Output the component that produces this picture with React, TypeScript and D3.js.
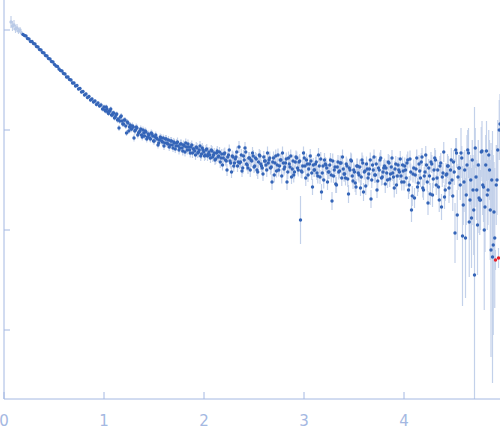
import React from 'react'
import * as d3 from 'd3'

// scattering vector grid (uniform): q = start + i * step
const qStep = 0.015
const qStartA = 0.07
const qStartB = 1.0075 // second, interleaved half of the points

// log10 of intensity (first half)
const logIntensityA = [
  0.08, 0.04, 0.05, 0.01, 0.02, -0.01, 0.0, -0.03, -0.045, -0.055,
  -0.06, -0.085, -0.09, -0.115, -0.115, -0.135, -0.14, -0.165, -0.17, -0.195,
  -0.2, -0.225, -0.23, -0.255, -0.26, -0.285, -0.29, -0.315, -0.32, -0.345,
  -0.36, -0.365, -0.39, -0.405, -0.41, -0.435, -0.44, -0.47, -0.47, -0.495,
  -0.5, -0.53, -0.53, -0.56, -0.555, -0.59, -0.585, -0.62, -0.615, -0.65,
  -0.64, -0.675, -0.665, -0.7, -0.69, -0.72, -0.71, -0.745, -0.73, -0.76,
  -0.75, -0.79, -0.77, -0.81, -0.79, -0.835, -0.81, -0.85, -0.83, -0.88,
  -0.85, -0.9, -0.98, -0.87, -0.91, -0.94, -0.9, -1.03, -0.93, -0.97,
  -0.99, -0.96, -1.08, -1.0, -0.98, -1.03, -1.01, -1.05, -1.0, -1.06,
  -1.02, -1.07, -1.05, -1.09, -1.04, -1.11, -1.07, -1.08, -1.15, -1.1,
  -1.08, -1.12, -1.16, -1.09, -1.13, -1.1, -1.15, -1.11, -1.18, -1.13,
  -1.16, -1.12, -1.2, -1.14, -1.18, -1.15, -1.22, -1.17, -1.14, -1.2,
  -1.17, -1.23, -1.19, -1.25, -1.18, -1.22, -1.16, -1.24, -1.2, -1.26,
  -1.2, -1.26, -1.22, -1.28, -1.21, -1.25, -1.3, -1.23, -1.27, -1.22,
  -1.28, -1.35, -1.24, -1.3, -1.4, -1.25, -1.31, -1.42, -1.27, -1.33,
  -1.27, -1.36, -1.17, -1.32, -1.41, -1.26, -1.18, -1.34, -1.38, -1.28,
  -1.3, -1.23, -1.37, -1.28, -1.4, -1.32, -1.26, -1.36, -1.44, -1.31,
  -1.35, -1.23, -1.3, -1.38, -1.52, -1.28, -1.33, -1.41, -1.25, -1.36,
  -1.3, -1.23, -1.39, -1.33, -1.52, -1.28, -1.37, -1.47, -1.31, -1.42,
  -1.27, -1.38, -1.32, -1.9, -1.42, -1.23, -1.36, -1.3, -1.45, -1.34,
  -1.31, -1.57, -1.4, -1.34, -1.43, -1.25, -1.47, -1.62, -1.36, -1.3,
  -1.35, -1.52, -1.42, -1.3, -1.71, -1.46, -1.37, -1.55, -1.32, -1.41,
  -1.33, -1.27, -1.44, -1.48, -1.36, -1.64, -1.4, -1.31, -1.51, -1.42,
  -1.57, -1.36, -1.45, -1.58, -1.3, -1.62, -1.41, -1.34, -1.48, -1.39,
  -1.69, -1.35, -1.27, -1.45, -1.6, -1.38, -1.3, -1.48, -1.42, -1.36,
  -1.38, -1.5, -1.33, -1.44, -1.28, -1.47, -1.39, -1.55, -1.35, -1.42,
  -1.46, -1.35, -1.52, -1.4, -1.33, -1.6, -1.29, -1.8, -1.44, -1.68,
  -1.39, -1.57, -1.34, -1.48, -1.27, -1.6, -1.42, -1.35, -1.73, -1.46,
  -1.32, -1.65, -1.4, -1.3, -1.48, -1.57, -1.36, -1.77, -1.43, -1.67,
  -1.45, -1.36, -1.58, -1.4, -1.5, -1.32, -2.03, -1.23, -1.47, -1.38,
  -1.23, -2.06, -1.52, -2.08, -1.35, -1.23, -1.7, -1.88, -1.6, -2.45,
  -1.47, -1.95, -1.68, -1.7, -1.21, -1.57, -1.77, -1.21, -1.6, -1.4,
  -2.2, -2.27, -1.82, -2.3, -1.5, -2.28, -0.94,
]

// error of log10 intensity (first half)
const logErrorA = [
  0.06, 0.05, 0.05, 0.04, 0.04, 0.03, 0.03, 0.02, 0.012, 0.01,
  0.01, 0.01, 0.01, 0.01, 0.01, 0.01, 0.01, 0.01, 0.01, 0.01,
  0.012, 0.012, 0.012, 0.012, 0.012, 0.012, 0.012, 0.012, 0.012, 0.012,
  0.015, 0.015, 0.015, 0.015, 0.015, 0.015, 0.015, 0.015, 0.015, 0.015,
  0.018, 0.018, 0.018, 0.018, 0.018, 0.018, 0.018, 0.018, 0.018, 0.018,
  0.02, 0.02, 0.02, 0.02, 0.02, 0.02, 0.02, 0.02, 0.02, 0.02,
  0.025, 0.025, 0.025, 0.025, 0.025, 0.025, 0.025, 0.025, 0.025, 0.025,
  0.03, 0.03, 0.03, 0.03, 0.03, 0.03, 0.03, 0.03, 0.03, 0.03,
  0.035, 0.035, 0.035, 0.035, 0.035, 0.035, 0.035, 0.035, 0.035, 0.035,
  0.035, 0.035, 0.035, 0.035, 0.035, 0.035, 0.035, 0.035, 0.035, 0.035,
  0.04, 0.04, 0.04, 0.04, 0.04, 0.04, 0.04, 0.04, 0.04, 0.04,
  0.045, 0.045, 0.045, 0.045, 0.045, 0.045, 0.045, 0.045, 0.045, 0.045,
  0.05, 0.05, 0.05, 0.05, 0.05, 0.05, 0.05, 0.05, 0.05, 0.05,
  0.05, 0.05, 0.05, 0.05, 0.05, 0.05, 0.05, 0.05, 0.05, 0.05,
  0.055, 0.055, 0.055, 0.055, 0.06, 0.055, 0.055, 0.06, 0.055, 0.055,
  0.06, 0.06, 0.06, 0.06, 0.06, 0.06, 0.06, 0.06, 0.06, 0.06,
  0.06, 0.06, 0.06, 0.06, 0.06, 0.06, 0.06, 0.06, 0.07, 0.06,
  0.065, 0.065, 0.065, 0.065, 0.08, 0.065, 0.065, 0.065, 0.065, 0.065,
  0.065, 0.065, 0.065, 0.065, 0.08, 0.065, 0.065, 0.07, 0.065, 0.065,
  0.065, 0.065, 0.065, 0.24, 0.065, 0.065, 0.065, 0.065, 0.07, 0.065,
  0.07, 0.08, 0.07, 0.07, 0.07, 0.07, 0.07, 0.08, 0.07, 0.07,
  0.07, 0.08, 0.07, 0.07, 0.09, 0.07, 0.07, 0.08, 0.07, 0.07,
  0.075, 0.075, 0.075, 0.075, 0.075, 0.09, 0.075, 0.075, 0.08, 0.075,
  0.08, 0.075, 0.075, 0.08, 0.075, 0.09, 0.075, 0.075, 0.075, 0.075,
  0.09, 0.075, 0.075, 0.075, 0.08, 0.075, 0.075, 0.075, 0.075, 0.075,
  0.08, 0.08, 0.08, 0.08, 0.08, 0.08, 0.08, 0.09, 0.08, 0.08,
  0.085, 0.085, 0.085, 0.085, 0.085, 0.09, 0.085, 0.12, 0.085, 0.1,
  0.09, 0.09, 0.09, 0.09, 0.09, 0.1, 0.09, 0.09, 0.12, 0.09,
  0.1, 0.12, 0.1, 0.1, 0.1, 0.11, 0.1, 0.13, 0.1, 0.12,
  0.12, 0.12, 0.15, 0.12, 0.14, 0.12, 0.3, 0.15, 0.13, 0.13,
  0.25, 0.7, 0.3, 0.6, 0.3, 0.25, 0.4, 0.5, 0.35, 1.68,
  0.3, 0.5, 0.35, 0.3, 0.3, 0.35, 0.45, 0.3, 0.35, 0.3,
  1.07, 1.26, 0.5, 0.1, 0.35, 0.1, 0.3,
]

// log10 of intensity, second (interleaved) half
const logIntensityB = [
  -0.8, -0.77, -0.82, -0.81, -0.79, -0.85, -0.83, -0.87, -0.84, -0.89,
  -0.91, -0.86, -0.94, -0.9, -0.96, -0.92, -1.01, -0.95, -0.99, -0.97,
  -1.01, -0.97, -1.05, -1.02, -0.99, -1.07, -1.03, -1.01, -1.09, -1.04,
  -1.08, -1.03, -1.06, -1.11, -1.05, -1.09, -1.13, -1.07, -1.11, -1.08,
  -1.13, -1.09, -1.14, -1.17, -1.11, -1.15, -1.12, -1.19, -1.13, -1.16,
  -1.18, -1.14, -1.21, -1.16, -1.13, -1.2, -1.17, -1.23, -1.15, -1.19,
  -1.21, -1.17, -1.23, -1.2, -1.26, -1.18, -1.22, -1.25, -1.19, -1.24,
  -1.25, -1.2, -1.27, -1.23, -1.29, -1.21, -1.26, -1.32, -1.24, -1.28,
  -1.23, -1.31, -1.27, -1.2, -1.33, -1.26, -1.36, -1.29, -1.22, -1.32,
  -1.33, -1.25, -1.38, -1.3, -1.22, -1.35, -1.28, -1.4, -1.31, -1.26,
  -1.36, -1.29, -1.42, -1.25, -1.34, -1.38, -1.27, -1.31, -1.4, -1.33,
  -1.28, -1.37, -1.32, -1.45, -1.26, -1.35, -1.4, -1.3, -1.46, -1.33,
  -1.37, -1.29, -1.42, -1.34, -1.26, -1.39, -1.45, -1.32, -1.28, -1.4,
  -1.31, -1.41, -1.36, -1.28, -1.48, -1.34, -1.39, -1.26, -1.43, -1.35,
  -1.4, -1.32, -1.46, -1.36, -1.29, -1.43, -1.5, -1.34, -1.38, -1.42,
  -1.35, -1.45, -1.31, -1.4, -1.54, -1.37, -1.42, -1.33, -1.48, -1.39,
  -1.44, -1.34, -1.49, -1.38, -1.3, -1.46, -1.4, -1.53, -1.36, -1.43,
  -1.37, -1.47, -1.33, -1.42, -1.56, -1.39, -1.44, -1.3, -1.5, -1.4,
  -1.45, -1.34, -1.51, -1.4, -1.28, -1.47, -1.38, -1.54, -1.43, -1.32,
  -1.49, -1.37, -1.43, -1.58, -1.34, -1.46, -1.4, -1.29, -1.52, -1.41,
  -1.36, -1.48, -1.3, -1.55, -1.42, -1.66, -1.38, -1.45, -1.28, -1.53,
  -1.41, -1.32, -1.58, -1.46, -1.25, -1.52, -1.38, -1.64, -1.34, -1.49,
  -1.28, -1.55, -1.4, -1.7, -1.33, -1.47, -1.22, -1.6, -1.44, -1.36,
  -1.53, -1.3, -1.66, -1.42, -1.2, -1.85, -1.38, -1.55, -1.28, -1.75,
  -1.4, -1.65, -1.2, -1.92, -1.5, -1.3, -1.8, -1.18, -1.6, -1.35,
  -1.7, -1.22, -1.55, -2.0, -1.35, -1.65, -1.25, -1.8, -1.5, -2.15,
  -2.08, -1.55, -1.2, -1.0,
]

// error of log10 intensity, second half
const logErrorB = [
  0.025, 0.025, 0.025, 0.025, 0.025, 0.025, 0.025, 0.025, 0.025, 0.025,
  0.03, 0.03, 0.03, 0.03, 0.03, 0.03, 0.03, 0.03, 0.03, 0.03,
  0.035, 0.035, 0.035, 0.035, 0.035, 0.035, 0.035, 0.035, 0.035, 0.035,
  0.035, 0.035, 0.035, 0.035, 0.035, 0.035, 0.035, 0.035, 0.035, 0.035,
  0.04, 0.04, 0.04, 0.04, 0.04, 0.04, 0.04, 0.04, 0.04, 0.04,
  0.045, 0.045, 0.045, 0.045, 0.045, 0.045, 0.045, 0.045, 0.045, 0.045,
  0.05, 0.05, 0.05, 0.05, 0.05, 0.05, 0.05, 0.05, 0.05, 0.05,
  0.05, 0.05, 0.05, 0.05, 0.05, 0.05, 0.05, 0.06, 0.05, 0.05,
  0.055, 0.055, 0.055, 0.055, 0.055, 0.055, 0.06, 0.055, 0.055, 0.055,
  0.06, 0.06, 0.06, 0.06, 0.06, 0.06, 0.06, 0.07, 0.06, 0.06,
  0.06, 0.06, 0.07, 0.06, 0.06, 0.06, 0.06, 0.06, 0.07, 0.06,
  0.065, 0.065, 0.065, 0.075, 0.065, 0.065, 0.065, 0.065, 0.075, 0.065,
  0.065, 0.065, 0.07, 0.065, 0.065, 0.065, 0.075, 0.065, 0.065, 0.065,
  0.07, 0.07, 0.07, 0.07, 0.08, 0.07, 0.07, 0.07, 0.07, 0.07,
  0.07, 0.07, 0.075, 0.07, 0.07, 0.07, 0.085, 0.07, 0.07, 0.07,
  0.075, 0.075, 0.075, 0.075, 0.09, 0.075, 0.075, 0.075, 0.08, 0.075,
  0.075, 0.075, 0.08, 0.075, 0.075, 0.075, 0.075, 0.09, 0.075, 0.075,
  0.075, 0.08, 0.075, 0.075, 0.09, 0.075, 0.075, 0.075, 0.08, 0.075,
  0.08, 0.08, 0.085, 0.08, 0.08, 0.08, 0.08, 0.09, 0.08, 0.08,
  0.08, 0.08, 0.08, 0.095, 0.08, 0.08, 0.08, 0.08, 0.085, 0.08,
  0.085, 0.085, 0.085, 0.09, 0.085, 0.1, 0.085, 0.085, 0.085, 0.09,
  0.09, 0.09, 0.095, 0.09, 0.09, 0.095, 0.09, 0.11, 0.09, 0.09,
  0.1, 0.1, 0.1, 0.12, 0.1, 0.1, 0.1, 0.11, 0.1, 0.1,
  0.13, 0.12, 0.15, 0.13, 0.12, 0.25, 0.13, 0.15, 0.12, 0.2,
  0.2, 0.3, 0.2, 0.55, 0.25, 0.2, 0.45, 0.2, 0.3, 0.25,
  0.35, 0.25, 0.3, 0.8, 0.3, 0.35, 0.25, 0.5, 0.3, 0.9,
  0.7, 0.4, 0.3, 0.3,
]

// leading points left out of the fit, and flagged outliers (first half indices)
const excludedCount = 8
const outlierIndexA = [323, 325]

const xTicks = [0, 1, 2, 3, 4]
const yTicks = [1, 0.1, 0.01, 0.001]

const W = 500
const H = 437
const left = 4
const bottom = 399

const axisColor = '#a4b8e2'
const pointColor = '#3565b8'
const lightPointColor = '#b9cae7'
const errorColor = '#c3d1ea'
const outlierColor = '#e8202a'

interface Pt {
  q: number
  l: number
  e: number
  kind: 'excl' | 'out' | 'ok'
}

const App: React.FC = () => {
  const x = d3.scaleLinear().domain([0, 4.96]).range([left, W])
  const y = d3.scaleLog().domain([10 ** 0.3, 10 ** -3.69]).range([0, bottom])

  const a: Pt[] = logIntensityA.map((l, i) => ({
    q: qStartA + i * qStep,
    l,
    e: logErrorA[i],
    kind: i < excludedCount ? 'excl' : outlierIndexA.includes(i) ? 'out' : 'ok',
  }))
  const b: Pt[] = logIntensityB.map((l, i) => ({
    q: qStartB + i * qStep,
    l,
    e: logErrorB[i],
    kind: 'ok',
  }))
  const points = [...a, ...b].sort((p1, p2) => p1.q - p2.q)
  // outliers drawn on top
  const drawOrder = [...points.filter(p => p.kind !== 'out'), ...points.filter(p => p.kind === 'out')]

  const clampY = (v: number) => Math.max(0, Math.min(bottom, v))

  return (
    <svg
      width={W}
      height={H}
      style={{ position: 'absolute', left: 0, top: 0, background: '#fff' }}
      fontFamily="DejaVu Sans, sans-serif"
    >
      <defs>
        <clipPath id="plot">
          <rect x={left} y={0} width={W - left} height={bottom} />
        </clipPath>
      </defs>

      <g clipPath="url(#plot)">
        {/* error bars */}
        {points.map((p, i) => (
          <line
            key={'e' + i}
            x1={x(p.q)}
            x2={x(p.q)}
            y1={clampY(y(10 ** (p.l + p.e)))}
            y2={clampY(y(10 ** (p.l - p.e)))}
            stroke={errorColor}
            strokeWidth={1.2}
          />
        ))}
        {/* points */}
        {drawOrder.map((p, i) => (
          <circle
            key={'p' + i}
            cx={x(p.q)}
            cy={y(10 ** p.l)}
            r={1.7}
            fill={p.kind === 'excl' ? lightPointColor : p.kind === 'out' ? outlierColor : pointColor}
          />
        ))}
      </g>

      {/* y axis */}
      <line x1={left} x2={left} y1={0} y2={bottom} stroke={axisColor} strokeWidth={1} />
      {yTicks.map(t => (
        <line key={'yt' + t} x1={left} x2={left + 6} y1={y(t)} y2={y(t)} stroke={axisColor} />
      ))}

      {/* x axis */}
      <line x1={left} x2={W} y1={bottom} y2={bottom} stroke={axisColor} strokeWidth={1} />
      {xTicks.map(t => (
        <g key={'xt' + t}>
          <line x1={x(t)} x2={x(t)} y1={bottom} y2={bottom - 7} stroke={axisColor} />
          <text x={x(t)} y={426} textAnchor="middle" fontSize={15} fill={axisColor}>
            {t}
          </text>
        </g>
      ))}
    </svg>
  )
}

export default App
